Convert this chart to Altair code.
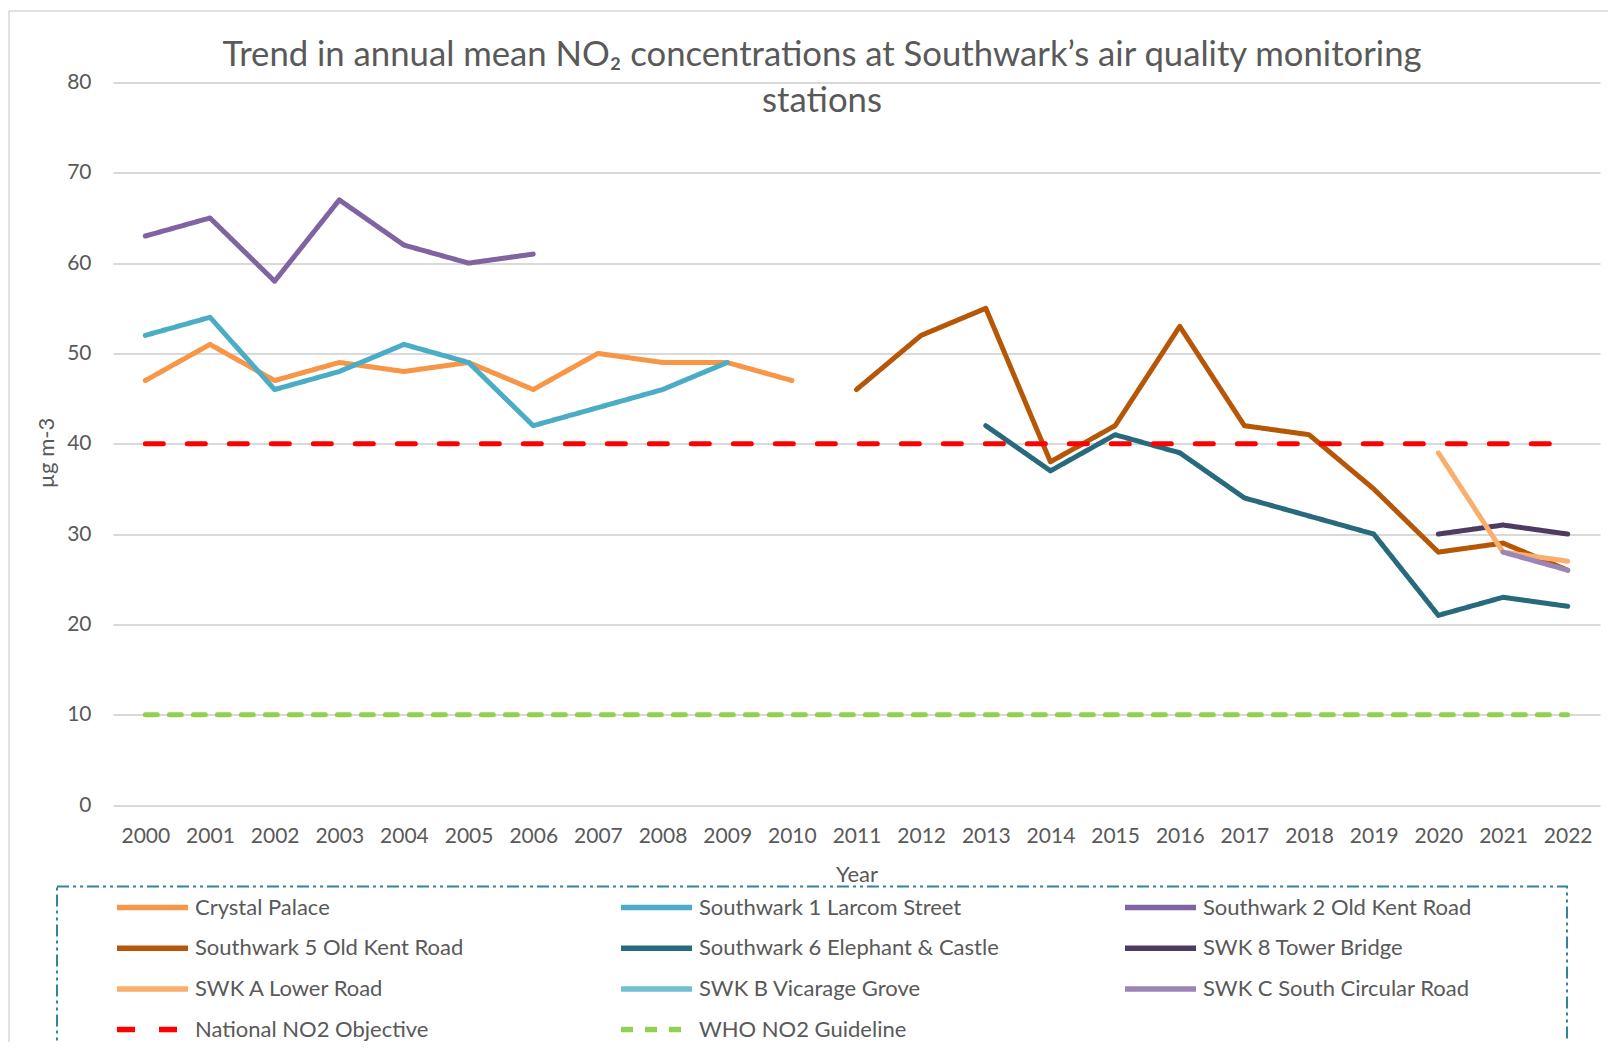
import altair as alt
import pandas as pd

years = list(range(2000, 2023))

series_names = [
    "Crystal Palace",
    "Southwark 1 Larcom Street",
    "Southwark 2 Old Kent Road",
    "Southwark 5 Old Kent Road",
    "Southwark 6 Elephant & Castle",
    "SWK 8 Tower Bridge",
    "SWK A Lower Road",
    "SWK B Vicarage Grove",
    "SWK C South Circular Road",
    "National NO2 Objective",
    "WHO NO2 Guideline",
]
series_colors = [
    "#F79646", "#4BACC6", "#8064A2", "#B65708", "#276A7C", "#4D3B62",
    "#F9AE6E", "#72BFD3", "#9B85B7", "#FF0000", "#92D050",
]
series_dashes = [[1, 0]] * 9 + [[18, 24], [12, 12]]

crystal_palace_years = list(range(2000, 2011))
crystal_palace = [47, 51, 47, 49, 48, 49, 46, 50, 49, 49, 47]

larcom_years = list(range(2000, 2010))
larcom = [52, 54, 46, 48, 51, 49, 42, 44, 46, 49]

okr2_years = list(range(2000, 2007))
okr2 = [63, 65, 58, 67, 62, 60, 61]

okr5_years = list(range(2011, 2023))
okr5 = [46, 52, 55, 38, 42, 53, 42, 41, 35, 28, 29, 26]

elephant_years = list(range(2013, 2023))
elephant = [42, 37, 41, 39, 34, 32, 30, 21, 23, 22]

tower_years = [2020, 2021, 2022]
tower = [30, 31, 30]

lower_years = [2020, 2021, 2022]
lower = [39, 28, 27]

vicarage_years = []
vicarage = []

south_circ_years = [2021, 2022]
south_circ = [28, 26]

objective_years = years
objective = [40] * len(years)

who_years = years
who = [10] * len(years)

series_data = [
    (crystal_palace_years, crystal_palace),
    (larcom_years, larcom),
    (okr2_years, okr2),
    (okr5_years, okr5),
    (elephant_years, elephant),
    (tower_years, tower),
    (lower_years, lower),
    (vicarage_years, vicarage),
    (south_circ_years, south_circ),
    (objective_years, objective),
    (who_years, who),
]

rows = []
for i, (name, (ys, vs)) in enumerate(zip(series_names, series_data)):
    for y, v in zip(ys, vs):
        rows.append({"year": y, "value": v, "series": name, "ord": i})
df = pd.DataFrame(rows)

FONT = "Lato"
GREY = "#595959"

lines = alt.Chart(df).mark_line(
    strokeWidth=5, strokeCap="round", strokeJoin="round"
).encode(
    x=alt.X(
        "year:O",
        scale=alt.Scale(type="point", padding=0.5, domain=years),
        axis=alt.Axis(
            title="Year", labelAngle=0, ticks=False, domain=False, grid=False,
            labelPadding=20, titleY=69, titleBaseline="middle",
        ),
    ),
    y=alt.Y(
        "value:Q",
        scale=alt.Scale(domain=[0, 80]),
        axis=alt.Axis(
            title="µg m-3", values=list(range(0, 81, 10)), ticks=False, domain=False,
            grid=True, labelPadding=22, titleX=-67, titleY=370,
            titleAlign="center", titleBaseline="middle", titleAngle=-90,
        ),
    ),
    color=alt.Color(
        "series:N",
        scale=alt.Scale(domain=series_names, range=series_colors),
        legend=alt.Legend(title="."),
    ),
    strokeDash=alt.StrokeDash(
        "series:N",
        scale=alt.Scale(domain=series_names, range=series_dashes),
        legend=alt.Legend(title="."),
    ),
    order=alt.Order("ord:Q"),
)

frame_df = pd.DataFrame({"k": [0]})
frame_left = alt.Chart(frame_df).mark_rule(color="#D9D9D9", strokeWidth=1.5).encode(
    x=alt.value(-104), y=alt.value(-71.5), y2=alt.value(980)
)
frame_top = alt.Chart(frame_df).mark_rule(color="#D9D9D9", strokeWidth=1.5).encode(
    x=alt.value(-104), x2=alt.value(1500), y=alt.value(-71.5)
)

chart = alt.layer(frame_left, frame_top, lines).properties(
    width=1487,
    height=722.5,
    autosize=alt.AutoSizeParams(type="none"),
    padding={"left": 105, "top": 74.5, "right": 8, "bottom": 237},
    background="white",
    title=alt.Title(
        text=["Trend in annual mean NO₂ concentrations at Southwark’s air quality monitoring",
              "stations"],
        font=FONT, fontSize=34.7, fontWeight="normal", color=GREY,
        anchor="middle", frame="group", dx=-34.5, lineHeight=46, baseline="top",
        offset=-109,
    ),
).configure_view(
    stroke=None
).configure_axis(
    labelFont=FONT, labelFontSize=21, labelColor=GREY,
    titleFont=FONT, titleFontSize=22, titleColor=GREY, titleFontWeight="normal",
    gridColor="#D9D9D9", gridWidth=2,
).configure_legend(
    orient="none", legendX=-56, legendY=804, direction="horizontal",
    columns=3, gridAlign="all", columnPadding=76, rowPadding=18.7, clipHeight=22,
    symbolType="stroke", symbolSize=5041, symbolStrokeWidth=5.5,
    labelFont=FONT, labelFontSize=22, labelColor=GREY, labelOffset=4, labelLimit=600,
    padding=10, symbolOffset=47,
    titleOrient="right", titleOpacity=0, titlePadding=83, titleFontSize=10,
    strokeColor="#31849B", strokeDash=[12, 4, 3, 4, 3, 4], strokeWidth=2,
)

chart.save("out.html", embed_options={"renderer": "svg", "actions": False})
